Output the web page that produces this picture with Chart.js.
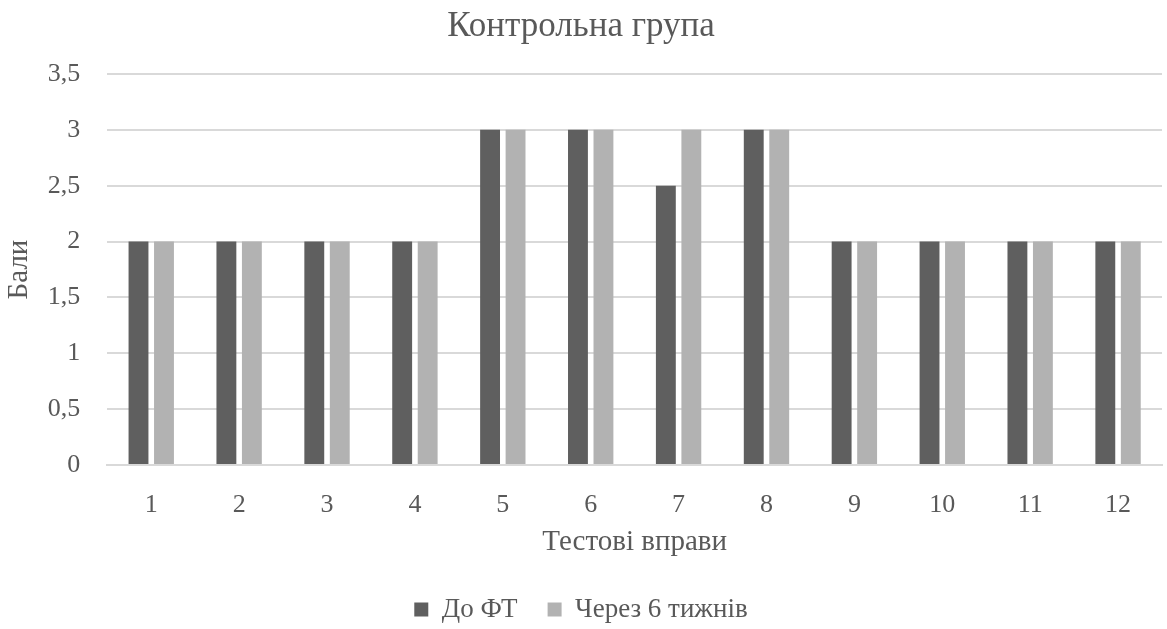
<!DOCTYPE html>
<html>
<head>
<meta charset="utf-8">
<script src="https://cdn.jsdelivr.net/npm/chart.js@4"></script>
<style>
  html, body { margin: 0; padding: 0; background: #ffffff; }
  #wrap { width: 1167px; height: 629px; position: relative; }
</style>
</head>
<body>
<div id="wrap"><canvas id="chart"></canvas></div>
<script>
// Тестові вправи 1–12, бали до ФТ і через 6 тижнів
const categories = ['1', '2', '3', '4', '5', '6', '7', '8', '9', '10', '11', '12'];
const beforeFT = [2, 2, 2, 2, 3, 3, 2.5, 3, 2, 2, 2, 2];
const after6Weeks = [2, 2, 2, 2, 3, 3, 3, 3, 2, 2, 2, 2];
const seriesNames = ['До ФТ', 'Через 6 тижнів'];
const yTicks = [0, 0.5, 1, 1.5, 2, 2.5, 3, 3.5];

const serif = "'Liberation Serif', 'Times New Roman', serif";
const textColor = '#595959';

new Chart(document.getElementById('chart'), {
  type: 'bar',
  data: {
    labels: categories,
    datasets: [
      { label: seriesNames[0], data: beforeFT, backgroundColor: '#5f5f5f' },
      { label: seriesNames[1], data: after6Weeks, backgroundColor: '#b2b2b2' }
    ]
  },
  options: {
    responsive: true,
    maintainAspectRatio: false,
    animation: false,
    categoryPercentage: 0.58,
    barPercentage: 0.78,
    layout: { padding: { left: 0, right: 5, top: 0, bottom: -4 } },
    plugins: {
      title: {
        display: true,
        text: 'Контрольна група',
        color: textColor,
        font: { family: serif, size: 35, weight: 'normal' },
        padding: { top: 6, bottom: 26 }
      },
      legend: {
        position: 'bottom',
        labels: {
          color: textColor,
          font: { family: serif, size: 27 },
          boxWidth: 14,
          boxHeight: 14,
          padding: 30
        }
      },
      tooltip: { enabled: false }
    },
    scales: {
      x: {
        grid: { display: false, drawTicks: false },
        border: { display: true, color: '#d9d9d9', width: 2 },
        ticks: { color: textColor, font: { family: serif, size: 26 }, padding: 25 },
        title: {
          display: true,
          text: 'Тестові вправи',
          color: textColor,
          font: { family: serif, size: 29 },
          padding: { top: -21, bottom: 6 }
        }
      },
      y: {
        min: 0,
        max: 3.5,
        afterBuildTicks: (axis) => { axis.ticks = yTicks.map(v => ({ value: v })); },
        grid: { color: '#d9d9d9', lineWidth: 2, drawTicks: false },
        border: { display: false },
        ticks: {
          color: textColor,
          font: { family: serif, size: 26 },
          padding: 27,
          callback: (v) => String(v).replace('.', ',')
        },
        title: {
          display: true,
          text: 'Бали',
          color: textColor,
          font: { family: serif, size: 29 },
          padding: { top: 2, bottom: -16 }
        }
      }
    }
  }
});
</script>
</body>
</html>
